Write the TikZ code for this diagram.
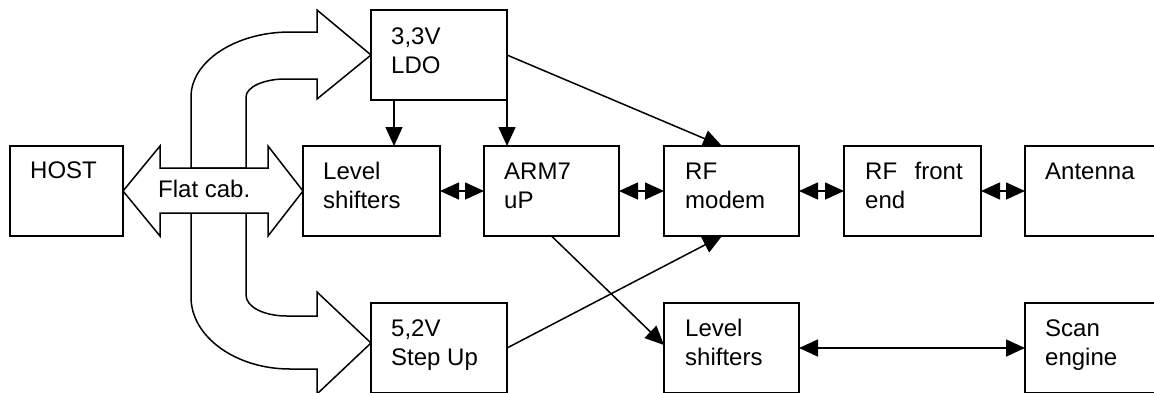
\documentclass[tikz,border=0pt]{standalone}
\usepackage{fontspec}
\setmainfont{Liberation Sans}
\usetikzlibrary{arrows.meta}
\tikzset{
  box/.style={draw, line width=1.5pt, inner sep=0pt, outer sep=0pt, fill=white},
  lbl/.style={anchor=base west, inner sep=0pt, font=\fontsize{24}{29}\selectfont},
  arr/.style={line width=1.5pt, -{Triangle[length=19pt,width=17pt]}},
  darr/.style={line width=1.5pt, {Triangle[length=19pt,width=17pt]}-{Triangle[length=19pt,width=17pt]}},
  block/.style={draw, line width=1.5pt, fill=white, line join=miter}
}
\newcommand{\tl}[1]{\begin{tabular}[t]{@{}l@{}}#1\end{tabular}}
\begin{document}
\begin{tikzpicture}[x=1pt,y=-1pt]
\useasboundingbox (0,0) rectangle (1154,392);
\clip (0,0) rectangle (1154,392);
\fill[white] (0,0) rectangle (1154,392);

% block arrows (flat cable)
\draw[block] (191,168) -- (191,97) .. controls (191,61) and (236,32) .. (290,32) -- (317,32) -- (317,10) -- (371,55) -- (317,99) -- (317,79) -- (285,79) .. controls (264,79) and (246,87) .. (246,97) -- (246,168) -- cycle;
\draw[block] (191,213) -- (191,297) .. controls (191,337) and (236,369) .. (290,369) -- (317,369) -- (317,394) -- (371,343) -- (317,292) -- (317,316) -- (287,316) .. controls (264,316) and (246,307) .. (246,295) -- (246,213) -- cycle;
\draw[block] (123,191) -- (160,146) -- (160,168) -- (268,168) -- (268,146) -- (303,191) -- (268,236) -- (268,213) -- (160,213) -- (160,236) -- cycle;
\node[lbl] (flat) at (158,197) {Flat cab.};

% boxes
\node[box, minimum width=113pt, minimum height=90pt] (host) at (66.5,191) {};
\node[box, minimum width=137pt, minimum height=90pt] (ls1) at (371.5,191) {};
\node[box, minimum width=135pt, minimum height=90pt] (arm) at (551.5,191) {};
\node[box, minimum width=135pt, minimum height=90pt] (rfm) at (731.5,191) {};
\node[box, minimum width=137pt, minimum height=90pt] (rffe) at (912.5,191) {};
\node[box, minimum width=135pt, minimum height=90pt] (ant) at (1092.5,191) {};
\node[box, minimum width=136pt, minimum height=90pt] (ldo) at (439,55) {};
\node[box, minimum width=136pt, minimum height=90pt] (step) at (439,348) {};
\node[box, minimum width=135pt, minimum height=90pt] (ls2) at (731.5,348) {};
\node[box, minimum width=135pt, minimum height=90pt] (scan) at (1092.5,348) {};

% labels
\node[lbl] (thost) at ([xshift=20pt,yshift=-32pt]host.north west) {\tl{HOST}};
\node[lbl] (tls1) at ([xshift=20pt,yshift=-33pt]ls1.north west) {\tl{Level\\shifters}};
\node[lbl] (tarm) at ([xshift=20pt,yshift=-33pt]arm.north west) {\tl{ARM7\\uP}};
\node[lbl] (trfm) at ([xshift=21pt,yshift=-33pt]rfm.north west) {\tl{RF\\modem}};
\node[lbl] (trffe) at ([xshift=21pt,yshift=-33pt]rffe.north west) {\tl{RF\hspace{0.45em} front\\end}};
\node[lbl] (tant) at ([xshift=20pt,yshift=-33pt]ant.north west) {\tl{Antenna}};
\node[lbl] (tldo) at ([xshift=20pt,yshift=-34pt]ldo.north west) {\tl{3,3V\\LDO}};
\node[lbl] (tstep) at ([xshift=20pt,yshift=-33pt]step.north west) {\tl{5,2V\\Step Up}};
\node[lbl] (tls2) at ([xshift=21pt,yshift=-33pt]ls2.north west) {\tl{Level\\shifters}};
\node[lbl] (tscan) at ([xshift=20pt,yshift=-33pt]scan.north west) {\tl{Scan\\engine}};

% connectors
\draw[arr] ([xshift=23pt]ldo.south west) -- ([xshift=23pt]ldo.south west |- ls1.north);
\draw[arr] (ldo.south east) -- (ldo.south east |- arm.north);
\draw[arr] (ldo.east) -- ([xshift=-9.5pt]rfm.north);
\draw[arr] (step.east) -- ([xshift=-9.5pt]rfm.south);
\draw[arr] (arm.south) -- ([yshift=3pt]ls2.west);
\draw[darr] (ls1.east) -- (arm.west);
\draw[darr] (arm.east) -- (rfm.west);
\draw[darr] (rfm.east) -- (rffe.west);
\draw[darr] (rffe.east) -- (ant.west);
\draw[darr] (ls2.east) -- (scan.west);
\end{tikzpicture}
\end{document}
